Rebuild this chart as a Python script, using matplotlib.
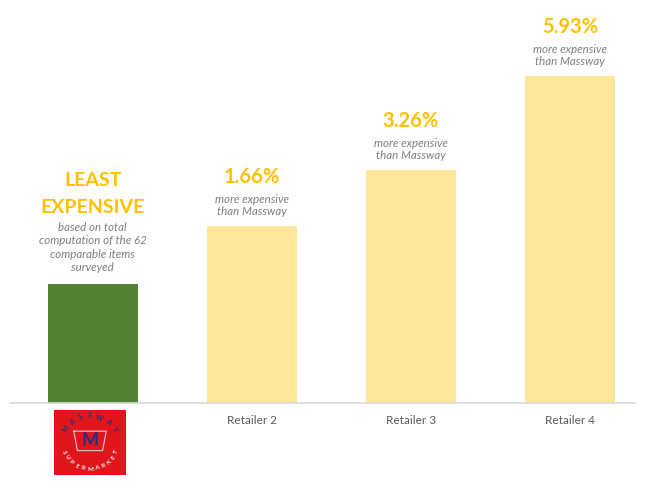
import numpy as np
import matplotlib.pyplot as plt

plt.rcParams['font.family'] = ['Lato', 'DejaVu Sans']

# price index relative to Massway (Massway = 100)
retailers = ['', 'Retailer 2', 'Retailer 3', 'Retailer 4']
index = [100.0, 101.66, 103.26, 105.93]
pct_labels = ['LEAST\nEXPENSIVE', '1.66%', '3.26%', '5.93%']
note_massway = 'based on total\ncomputation of the 62\ncomparable items\nsurveyed'
note_other = 'more expensive\nthan Massway'

bar_colors = ['#548235', '#FFE699', '#FFE699', '#FFE699']
gold = '#FFC000'
grey = '#7F7F7F'

W, H = 660, 488
fig = plt.figure(figsize=(W / 100, H / 100), dpi=100)

# axes in pixel coords: x 10..635, y (from top) 10..403
ax = fig.add_axes([10 / W, 1 - 403 / H, 625 / W, 393 / H])
x = np.arange(len(index))
ax.bar(x, index, width=0.566, color=bar_colors, bottom=0)
ax.set_xlim(-0.519, 3.41)
ax.set_ylim(96.6, 96.6 + 393 / 35)

for s in ['top', 'right', 'left']:
    ax.spines[s].set_visible(False)
ax.spines['bottom'].set_color('#D9D9D9')
ax.spines['bottom'].set_linewidth(1.2)
ax.set_yticks([])
ax.set_xticks(x)
ax.set_xticklabels(retailers, fontsize=8.5, color='#595959')
ax.tick_params(axis='x', length=0, pad=9)

# labels above bars
for i, v in enumerate(index):
    if i == 0:
        ax.annotate(note_massway, (i, v), xytext=(0, 13), textcoords='offset pixels',
                    ha='center', va='baseline', fontsize=8.3, style='italic',
                    color=grey, linespacing=1.25)
        ax.annotate(pct_labels[i], (i, v), xytext=(0, 71), textcoords='offset pixels',
                    ha='center', va='baseline', fontsize=14, fontweight='bold',
                    color=gold, linespacing=1.75)
    else:
        ax.annotate(note_other, (i, v), xytext=(0, 11), textcoords='offset pixels',
                    ha='center', va='baseline', fontsize=8.3, style='italic',
                    color=grey, linespacing=1.12)
        ax.annotate(pct_labels[i], (i, v), xytext=(0, 43), textcoords='offset pixels',
                    ha='center', va='baseline', fontsize=14.5, fontweight='bold',
                    color=gold)

# stand-in for the Massway logo under the first bar
lx0, lx1, ly0, ly1 = 54, 126, 410, 475
lax = fig.add_axes([lx0 / W, 1 - ly1 / H, (lx1 - lx0) / W, (ly1 - ly0) / H])
lax.set_facecolor('#E0161C')
lax.set_xlim(-1, 1)
lax.set_ylim(-1, 1)
lax.set_xticks([])
lax.set_yticks([])
for s in lax.spines.values():
    s.set_visible(False)

top_word = 'MASSWAY'
angs = np.linspace(150, 30, len(top_word))
for ch, a in zip(top_word, angs):
    r = 0.78
    lax.text(r * np.cos(np.radians(a)), r * np.sin(np.radians(a)) * 1.05, ch,
             rotation=a - 90, ha='center', va='center', fontsize=5,
             fontweight='bold', color='#2B2F7A')
bot_word = 'SUPERMARKET'
angs = np.linspace(200, 340, len(bot_word))
for ch, a in zip(bot_word, angs):
    r = 0.78
    lax.text(r * np.cos(np.radians(a)), r * np.sin(np.radians(a)) * 1.05, ch,
             rotation=a + 90, ha='center', va='center', fontsize=4.5,
             fontweight='bold', color='#F2F2F2')
# rough cart outline behind the M
lax.plot([-0.45, 0.45, 0.35, -0.35, -0.45], [0.35, 0.35, -0.25, -0.25, 0.35],
         color='#C9CCE0', lw=0.8)
lax.text(0, 0.05, 'M', ha='center', va='center', fontsize=13,
         fontweight='bold', color='#2B2F7A')

fig.savefig('out.png', dpi=100, facecolor='white')
